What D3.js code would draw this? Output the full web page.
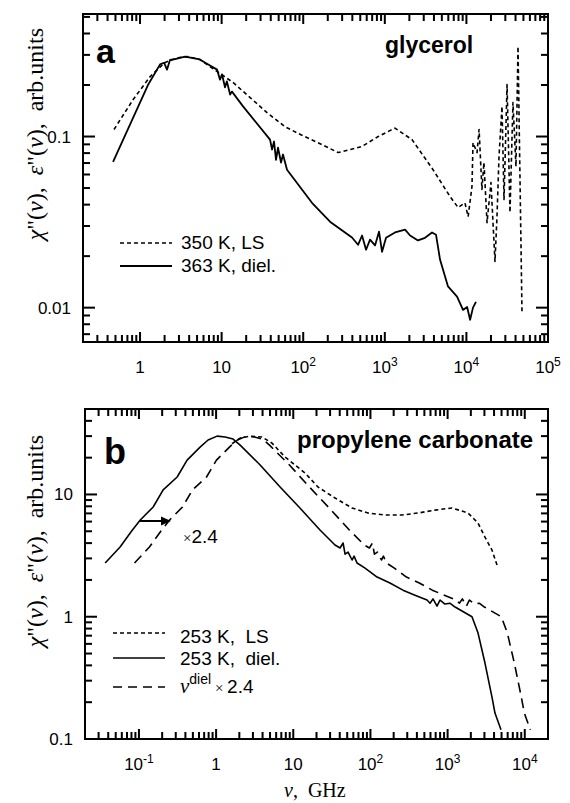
<!DOCTYPE html>
<html>
<head>
<meta charset="utf-8">
<script src="https://cdn.jsdelivr.net/npm/d3@7"></script>
<style>
  body { margin: 0; background: #fff; }
  text { font-family: "Liberation Sans", Arial, sans-serif; fill: #000; }
  .serif { font-family: "Liberation Serif", "Times New Roman", serif; }
</style>
</head>
<body>
<div id="chart"></div>
<script>
// ---- panel a: glycerol, [nu (GHz), value] ----
const glyLS350 = [
  [0.48, 0.11], [0.82, 0.164], [1.33, 0.224], [2.0, 0.27], [2.8, 0.288], [3.8, 0.293],
  [5.4, 0.282], [8.8, 0.24], [13.8, 0.207], [22, 0.17], [36, 0.138], [60, 0.114],
  [95, 0.102], [152, 0.092], [268, 0.0806], [525, 0.0875], [830, 0.1], [1330, 0.112],
  [2150, 0.096], [3900, 0.064], [6300, 0.0446], [7900, 0.0385], [9600, 0.041],
  [10500, 0.034], [11700, 0.051], [12050, 0.092], [13500, 0.0806], [14300, 0.11],
  [15500, 0.049], [16400, 0.0705], [17900, 0.0314], [20000, 0.0538], [22400, 0.0186],
  [23700, 0.034], [25100, 0.0764], [27300, 0.15], [28900, 0.0428], [31500, 0.201],
  [34200, 0.036], [37200, 0.158], [40500, 0.0668], [42900, 0.336], [48000, 0.0095]
]
const glyDiel363 = [
  [0.467, 0.071], [1.25, 0.2], [1.76, 0.264], [1.97, 0.27], [2.14, 0.246], [2.33, 0.28],
  [2.68, 0.283], [3.56, 0.293], [5.4, 0.282], [7.2, 0.26], [8.8, 0.246], [9.55, 0.215],
  [10.1, 0.231], [11.0, 0.194], [11.6, 0.21], [12.7, 0.176], [13.4, 0.183], [18.3, 0.15],
  [39.2, 0.096], [41.5, 0.084], [43.9, 0.0935], [46.4, 0.073], [49.1, 0.086], [53.5, 0.0705],
  [56.5, 0.0785], [63.3, 0.064], [128, 0.041], [213, 0.0318], [396, 0.0257], [470, 0.0233],
  [526, 0.0264], [589, 0.0218], [659, 0.025], [759, 0.0231], [849, 0.0278], [925, 0.0212],
  [1035, 0.0256], [1333, 0.0275], [1770, 0.0286], [2040, 0.0264], [2550, 0.0247],
  [3110, 0.0256], [3790, 0.0275], [4240, 0.0267], [4750, 0.0191], [5950, 0.0133],
  [7680, 0.0116], [9090, 0.0097], [10200, 0.0101], [11100, 0.0085], [12050, 0.01], [13100, 0.0108]
]

// ---- panel b: propylene carbonate ----
const pcLS253 = [
  [1.61, 26], [2.05, 28.9], [2.75, 30], [3.94, 29.5], [5.3, 26.3], [7.83, 20.2], [14.2, 15.0],
  [20.9, 11.5], [34.8, 9.35], [57.8, 7.75], [93.1, 7.05], [155, 6.79], [257, 6.79], [414, 7.05],
  [687, 7.45], [1140, 7.75], [1540, 7.31], [1840, 7.05], [2480, 5.84], [3050, 4.48],
  [3760, 3.51], [4500, 2.5]
]
const pcDiel253 = [
  [0.0365, 2.75], [0.057, 3.72], [0.08, 5.0], [0.104, 6.18], [0.153, 7.9], [0.206, 10.9],
  [0.313, 13.9], [0.421, 19.1], [0.62, 24.4], [0.787, 27.9], [1.03, 30.0], [1.31, 29.5],
  [1.66, 28.4], [2.05, 25.3], [3.72, 17.4], [6.75, 11.5], [12.2, 7.74], [22.2, 5.12],
  [34.7, 3.86], [40.4, 3.65], [44.2, 4.01], [46.9, 3.25], [51.3, 3.38], [57.8, 2.91],
  [61.4, 3.13], [67.0, 2.75], [85.1, 2.5], [122, 2.11], [179, 1.89], [264, 1.65], [378, 1.5],
  [541, 1.37], [592, 1.29], [647, 1.40], [729, 1.22], [798, 1.37], [925, 1.27], [1070, 1.29],
  [1250, 1.2], [2070, 1.0], [2480, 0.735], [3050, 0.418], [3760, 0.22], [4110, 0.163], [4920, 0.119]
]
const pcShift = 2.4   // nu^diel x 2.4

// tick labels
const glyXLabels = [1, 10, 1e2, 1e3, 1e4, 1e5]
const glyYLabels = [["0.1", 0.1], ["0.01", 0.01]]
const pcXLabels = [0.1, 1, 10, 1e2, 1e3, 1e4]
const pcYLabels = [["10", 10], ["1", 1], ["0.1", 0.1]]
const tickMultipliers = [1, 2, 3, 4, 5, 6, 7, 8, 9]

const svg = d3.select("#chart").append("svg").attr("width", 570).attr("height", 803)

// 1..9 x 10^e values inside the domain
function logTicks(lo, hi) {
  const out = []
  for (let e = Math.floor(Math.log10(lo)); e <= Math.ceil(Math.log10(hi)); e++) {
    tickMultipliers.forEach(k => {
      const v = k * Math.pow(10, e)
      if (v >= lo * 0.999 && v <= hi * 1.001) out.push({ v, major: k === 1 })
    })
  }
  return out
}

function panel(cfg) {
  const x = d3.scaleLog().domain(cfg.xDomain).range([cfg.left, cfg.right])
  const y = d3.scaleLog().domain(cfg.yDomain).range([cfg.bottom, cfg.top])
  const g = svg.append("g")

  // inward ticks on all four sides
  const tk = g.append("g").attr("fill", "#000")
  logTicks(cfg.xDomain[0], cfg.xDomain[1]).forEach(t => {
    const px = x(t.v), len = t.major ? 10 : 7
    tk.append("rect").attr("x", px - 1).attr("y", cfg.bottom - len).attr("width", 2).attr("height", len)
    tk.append("rect").attr("x", px - 1).attr("y", cfg.top).attr("width", 2).attr("height", len)
  })
  logTicks(cfg.yDomain[0], cfg.yDomain[1]).forEach(t => {
    const py = y(t.v), len = t.major ? 12 : 7
    tk.append("rect").attr("x", cfg.left).attr("y", py - 1).attr("width", len).attr("height", 2)
    tk.append("rect").attr("x", cfg.right - len).attr("y", py - 1).attr("width", len).attr("height", 2)
  })

  g.append("rect")
    .attr("x", cfg.left).attr("y", cfg.top)
    .attr("width", cfg.right - cfg.left).attr("height", cfg.bottom - cfg.top)
    .attr("fill", "none").attr("stroke", "#000").attr("stroke-width", 2)

  // x tick labels
  cfg.xLabels.forEach(v => {
    const e = Math.round(Math.log10(v))
    const t = g.append("text").attr("x", x(v)).attr("y", cfg.bottom + 31)
      .attr("text-anchor", "middle").attr("font-size", 17)
    if (e === 0) t.text("1")
    else if (e === 1) t.text("10")
    else {
      t.append("tspan").text("10")
      t.append("tspan").attr("dy", -7).attr("font-size", 12).text(e)
    }
  })
  // y tick labels
  cfg.yLabels.forEach(([s, v]) => {
    g.append("text").attr("x", cfg.left - 12).attr("y", y(v) + 6)
      .attr("text-anchor", "end").attr("font-size", 17).text(s)
  })

  const line = d3.line().x(d => x(d[0])).y(d => y(d[1]))
  cfg.series.forEach(s => {
    g.append("path").datum(s.data)
      .attr("d", line)
      .attr("fill", "none").attr("stroke", "#000")
      .attr("stroke-width", s.width)
      .attr("stroke-linejoin", "round")
      .attr("stroke-dasharray", s.dash)
  })

  // y axis title
  const yl = g.append("text").attr("class", "serif")
    .attr("transform", `translate(43,${cfg.yTitleTop}) rotate(-90)`)
    .attr("text-anchor", "end").attr("font-size", 24).style("white-space", "pre")
  yl.append("tspan").attr("font-style", "italic").text("χ")
  yl.append("tspan").text("\"(")
  yl.append("tspan").attr("font-style", "italic").text("ν")
  yl.append("tspan").text("),  ")
  yl.append("tspan").attr("font-style", "italic").text("ε")
  yl.append("tspan").text("\"(")
  yl.append("tspan").attr("font-style", "italic").text("ν")
  yl.append("tspan").text("),  arb.units")

  return { x, y, g }
}

// panel a
const pa = panel({
  left: 83, right: 548, top: 14, bottom: 342,
  xDomain: [0.2, 1e5], yDomain: [0.0063, 0.52],
  xLabels: glyXLabels, yLabels: glyYLabels, yTitleTop: 28,
  series: [
    { data: glyLS350, width: 1.6, dash: "4,3" },
    { data: glyDiel363, width: 1.8, dash: null }
  ]
})
pa.g.append("text").attr("x", 96).attr("y", 63).attr("font-size", 34).attr("font-weight", "bold").text("a")
pa.g.append("text").attr("x", 385).attr("y", 53).attr("font-size", 23).attr("font-weight", "bold").text("glycerol")
pa.g.append("line").attr("x1", 120).attr("x2", 172).attr("y1", 243).attr("y2", 243)
  .attr("stroke", "#000").attr("stroke-width", 1.6).attr("stroke-dasharray", "4,3")
pa.g.append("line").attr("x1", 120).attr("x2", 172).attr("y1", 266).attr("y2", 266)
  .attr("stroke", "#000").attr("stroke-width", 1.8)
pa.g.append("text").attr("x", 181).attr("y", 249).attr("font-size", 19).text("350 K, LS")
pa.g.append("text").attr("x", 181).attr("y", 272).attr("font-size", 19).text("363 K, diel.")

// panel b
const pb = panel({
  left: 85, right: 548, top: 409, bottom: 739,
  xDomain: [0.02, 2e4], yDomain: [0.1, 50],
  xLabels: pcXLabels, yLabels: pcYLabels, yTitleTop: 435,
  series: [
    { data: pcLS253, width: 1.6, dash: "4,3" },
    { data: pcDiel253, width: 1.6, dash: null },
    { data: pcDiel253.map(d => [d[0] * pcShift, d[1]]), width: 1.6, dash: "10,6" }
  ]
})
pb.g.append("text").attr("x", 104).attr("y", 464).attr("font-size", 36).attr("font-weight", "bold").text("b")
pb.g.append("text").attr("x", 297).attr("y", 448).attr("font-size", 24).attr("font-weight", "bold").text("propylene carbonate")

const legB = [["4,3", 633], [null, 658], ["9,6", 687]]
legB.forEach(([dash, yy]) => {
  pb.g.append("line").attr("x1", 113).attr("x2", 165).attr("y1", yy).attr("y2", yy)
    .attr("stroke", "#000").attr("stroke-width", 1.6).attr("stroke-dasharray", dash)
})
pb.g.append("text").attr("x", 180).attr("y", 643).attr("font-size", 19).style("white-space", "pre").text("253 K,  LS")
pb.g.append("text").attr("x", 180).attr("y", 665).attr("font-size", 19).style("white-space", "pre").text("253 K,  diel.")
const l3 = pb.g.append("text").attr("x", 180).attr("y", 693).attr("font-size", 19)
l3.append("tspan").attr("class", "serif").attr("font-style", "italic").attr("font-size", 21).text("ν")
l3.append("tspan").attr("dy", -9).attr("font-size", 14).text("diel")
l3.append("tspan").attr("dy", 9).attr("class", "serif").attr("font-size", 15).text(" × ")
l3.append("tspan").text("2.4")

// shift arrow
pb.g.append("line").attr("x1", 140).attr("x2", 163).attr("y1", 521).attr("y2", 521)
  .attr("stroke", "#000").attr("stroke-width", 2)
pb.g.append("path").attr("d", "M161,516.5 L171,521 L161,525.5 Z").attr("fill", "#000")
const ann = pb.g.append("text").attr("x", 183).attr("y", 543).attr("font-size", 19)
ann.append("tspan").attr("class", "serif").attr("font-size", 15).text("×")
ann.append("tspan").text("2.4")

// x axis title
const xt = svg.append("text").attr("class", "serif").attr("x", 284).attr("y", 797)
  .attr("font-size", 20).style("white-space", "pre")
xt.append("tspan").attr("font-style", "italic").text("ν")
xt.append("tspan").text(",  GHz")
</script>
</body>
</html>
